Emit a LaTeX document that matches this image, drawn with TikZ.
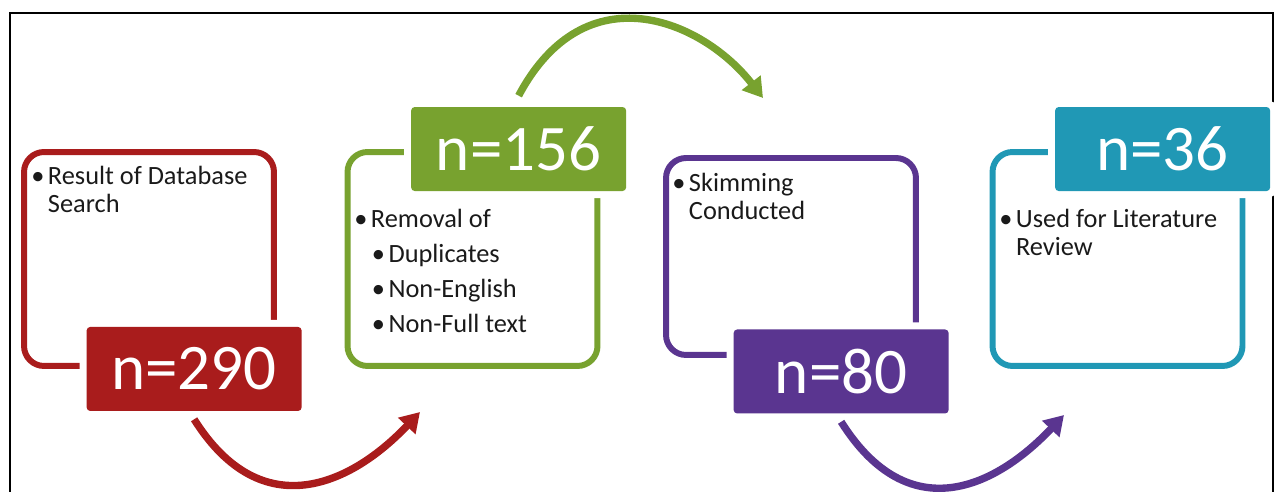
\documentclass[tikz,border=0pt]{standalone}
\usepackage{fontspec}
\setmainfont{Carlito}
\usetikzlibrary{arrows.meta}

\definecolor{redc}{HTML}{A91C1C}
\definecolor{grnc}{HTML}{78A22F}
\definecolor{purc}{HTML}{5A3590}
\definecolor{tealc}{HTML}{2098B5}
\definecolor{txt}{HTML}{1A1A1A}

\newcommand\bul{\textbullet\hspace{2pt}}
\newcommand\nobul{\phantom{\textbullet}\hspace{2pt}}

\begin{document}
\begin{tikzpicture}
  [x=0.02cm,y=-0.02cm,
   stagebox/.style={rounded corners=0.4cm,line width=3.4pt,inner sep=0pt,minimum width=5cm,minimum height=4.28cm},
   countbox/.style={rounded corners=2pt,text=white,inner sep=0pt,minimum width=4.3cm,minimum height=1.68cm,
     font=\fontsize{37}{37}\selectfont,preaction={draw=white,line width=0.28cm}},
   itemtext/.style={anchor=base west,inner sep=0pt,text=txt,font=\fontsize{15}{15.5}\selectfont},
   flow/.style={line width=4.2pt,draw=#1,-{Triangle[length=11pt,width=13pt]}}]
  \useasboundingbox (0,0) rectangle (1278,492);
  \draw[line width=1.6pt] (10,492) |- (1273,13) -- (1273,492);

  \node[stagebox,draw=redc] (box290) at (149,259) {};
  \node[stagebox,draw=grnc] (box156) at (472.5,259) {};
  \node[stagebox,draw=purc,minimum height=3.94cm] (box80) at (791,256.5) {};
  \node[stagebox,draw=tealc] (box36) at (1117.5,259) {};

  \node[countbox,fill=redc,anchor=east] (n290) at ([xshift=0.5cm]box290.south east) {n=290};
  \node[countbox,fill=grnc,anchor=east] (n156) at ([xshift=0.52cm]box156.north east) {n=156};
  \node[countbox,fill=purc,anchor=east] (n80) at ([xshift=0.6cm,yshift=-0.27cm]box80.south east) {n=80};
  \node[countbox,fill=tealc,anchor=east] (n36) at ([xshift=0.5cm]box36.north east) {n=36};

  \node[itemtext] (t290) at (31,185) {\begin{tabular}[t]{@{}l@{}}\bul Result of Database\\\nobul Search\end{tabular}};
  \node[itemtext] (t156) at (354,228) {\begin{tabular}[t]{@{}l@{}}\bul Removal of\\[4.4pt]
    \hspace{10pt}\bul Duplicates\\[4.4pt]\hspace{10pt}\bul Non-English\\[4.4pt]\hspace{10pt}\bul Non-Full text\end{tabular}};
  \node[itemtext] (t80) at (672,192) {\begin{tabular}[t]{@{}l@{}}\bul Skimming\\\nobul Conducted\end{tabular}};
  \node[itemtext] (t36) at (999,228) {\begin{tabular}[t]{@{}l@{}}\bul Used for Literature\\\nobul Review\end{tabular}};

  \coordinate (r2g) at (420,412);
  \coordinate (g2p) at (763,98);
  \coordinate (p2t) at (1064,415);
  \foreach \from/\to/\clr in {n290/r2g/redc,n80/p2t/purc}
    \draw[flow=\clr] ([yshift=-0.16cm]\from.south) .. controls +(68,108) and +(-68,72) .. (\to);
  \draw[flow=grnc] ([yshift=0.22cm]n156.north) .. controls +(67,-126) and +(-60,-77) .. (g2p);
\end{tikzpicture}
\end{document}
